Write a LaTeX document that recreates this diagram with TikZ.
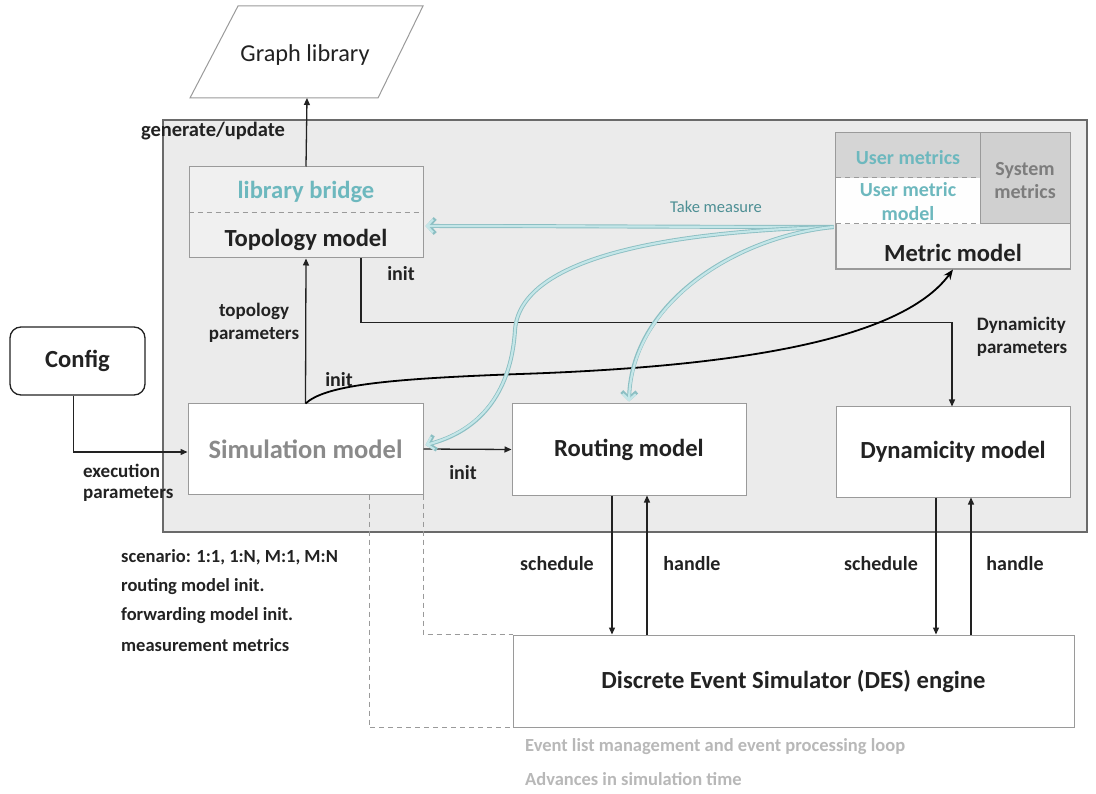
\documentclass[tikz,border=0pt]{standalone}
\usepackage{fontspec}
\setmainfont{Carlito}
\usetikzlibrary{arrows.meta,calc}
\definecolor{panel}{HTML}{EBEBEB}
\definecolor{panelborder}{HTML}{6A6A6A}
\definecolor{boxborder}{HTML}{9A9A9A}
\definecolor{tealtext}{HTML}{6DB8BE}
\definecolor{tealdark}{HTML}{4D8F94}
\definecolor{teallight}{HTML}{C4E6E8}
\definecolor{tealedge}{HTML}{8CBFC3}
\definecolor{simgray}{HTML}{8A8A8A}
\definecolor{sysgray}{HTML}{7D7D7D}
\definecolor{lightgraytext}{HTML}{B8B8B8}
\definecolor{cellgray}{HTML}{D5D5D5}
\definecolor{syscell}{HTML}{D0D0D0}
\definecolor{topofill}{HTML}{F0F0F0}
\definecolor{linecol}{HTML}{222222}
\begin{document}
\begin{tikzpicture}[x=1pt,y=-1pt,
  bigfont/.style={font=\fontsize{24.6}{28}\selectfont\bfseries},
  labfont/.style={font=\fontsize{20}{23}\selectfont\bfseries},
  model/.style={draw=boxborder, line width=1pt, fill=white, inner sep=0pt, bigfont},
  lab/.style={labfont, inner sep=0pt, text=linecol},
  arr/.style={draw=linecol, line width=1.3pt, -{Triangle[length=7pt,width=6pt]}},
  dashgray/.style={draw=boxborder, line width=1pt, dash pattern=on 5pt off 4pt},
  tealarr/.style={draw=tealedge, line width=4pt, -{Straight Barb[length=7pt,width=15pt]},
    postaction={draw=teallight, line width=2.2pt, -{Straight Barb[length=6pt,width=13pt]}}},
]
\useasboundingbox (0,0) rectangle (1096,794);
\fill[white] (0,0) rectangle (1096,794);

% main panel
\fill[panel] (163,120) rectangle (1087,532);
\draw[panelborder, line width=2pt] (163,120) rectangle (1087,532);

% Graph library parallelogram
\draw[boxborder, line width=1pt, fill=white] (238,6) -- (423,6) -- (378,98) -- (190,98) -- cycle;
\node[font=\fontsize{24.3}{28}\selectfont, text=linecol, inner sep=0pt] (glib) at (305,55) {Graph library};
\coordinate (glibb) at (307,98);

% Topology model
\node[model, fill=topofill, minimum width=234pt, minimum height=91pt] (topo) at (306,212.5) {};
\draw[dashgray] (topo.west) -- (topo.east);
\node[bigfont, text=tealtext, inner sep=0pt] (bridge) at (306,192) {library bridge};
\node[bigfont, text=linecol, inner sep=0pt] (topolab) at (306,240) {Topology model};

% Metric model
\node[model, fill=topofill, minimum width=234pt, minimum height=136pt] (metric) at (953,201) {};
\fill[cellgray] (836,133) rectangle (980,178);
\fill[syscell] (980,133) rectangle (1070,224);
\fill[white!95!panel] (836,178) rectangle (980,224);
\draw[boxborder, line width=1pt] (980,133) -- (980,224) -- (1070,224);
\draw[dashgray] (836,178) -- (980,178);
\draw[dashgray] (836,224) -- (980,224);
\draw[boxborder, line width=1pt] (metric.north west) rectangle (metric.south east);
\node[labfont, text=tealtext, inner sep=0pt] (umet) at (908,158) {User metrics};
\node[text=tealtext, inner sep=0pt, align=center, font=\fontsize{20}{24}\selectfont\bfseries] (umodel) at (908,202) {User metric\\model};
\node[text=sysgray, inner sep=0pt, align=center, font=\fontsize{20}{23}\selectfont\bfseries] (smet) at (1025,181) {System\\metrics};
\node[bigfont, text=linecol, inner sep=0pt] (metlab) at (953,253) {Metric model};

% Config
\node[draw=linecol, line width=1.3pt, rounded corners=11pt, fill=white, minimum width=135pt, minimum height=68pt, bigfont, text=linecol] (config) at (77.5,361) {Config};

% Simulation, routing, dynamicity
\node[model, minimum width=235pt, minimum height=90pt, text=simgray, font=\fontsize{26.5}{30}\selectfont\bfseries] (sim) at (305.5,449) {Simulation model};
\node[model, minimum width=234pt, minimum height=91pt, text=linecol] (rout) at (629,449.5) {Routing model};
\node[model, minimum width=234pt, minimum height=90pt, text=linecol] (dyn) at (953,452) {Dynamicity model};

% DES engine
\node[model, minimum width=561pt, minimum height=92pt, text=linecol] (des) at (793.5,681) {Discrete Event Simulator (DES) engine};

% dashed links from simulation to DES
\coordinate (simdl) at ($(sim.south)+(63.5,0)$);
\draw[dashgray] (sim.south east) |- (des.north west);
\draw[dashgray] (simdl) |- (des.south west);

% topology -> graph library
\draw[arr] (topo.north) -- (glibb);
\node[lab, font=\fontsize{20.5}{23}\selectfont\bfseries] (genlab) at (213,131) {generate/update};

% simulation -> topology
\draw[arr] (sim.north) -- (topo.south);
\node[lab, align=center, font=\fontsize{19}{23}\selectfont\bfseries] (topoparam) at (254,323) {topology\\parameters};

% topology -> dynamicity
\coordinate (tdstart) at ($(topo.south)+(55,0)$);
\coordinate (tdcorner) at ($(dyn.north)+(-1,-84)$);
\coordinate (tdend) at ($(dyn.north)+(-1,0)$);
\draw[arr] (tdstart) |- (tdcorner) -- (tdend);
\node[lab] (initt) at (401,274) {init};
\node[lab, align=left, font=\fontsize{19}{23}\selectfont\bfseries] (dynparam) at (1022,337) {Dynamicity\\parameters};

% config -> simulation
\coordinate (cfgout) at ($(config.south)+(-4,0)$);
\coordinate (simin) at ($(sim.west)+(0,3)$);
\draw[arr] (cfgout) |- (simin);
\node[lab, align=left, anchor=west, font=\fontsize{19}{21}\selectfont\bfseries] (execparam) at (83,483) {execution\\parameters};

% simulation -> routing
\draw[arr] (sim.east) -- (rout.west);
\node[lab] (initr) at (463,473) {init};

% simulation -> metric (init curve)
\draw[draw=black, line width=1.8pt, -{Stealth[length=10pt,width=8pt]}]
  (sim.north) .. controls (325,386) and (380,379) .. (520,374)
  .. controls (760,366) and (905,335) .. (metric.south);
\node[lab] (initm) at (339,380) {init};

% take measure curves
\coordinate (mstart) at ($(metric.west)+(-2,26)$);
\draw[tealarr] (mstart) .. controls (700,227) and (550,226) .. ($(topo.east)+(2,13.5)$);
\draw[tealarr] (mstart) .. controls (650,232) and (520,262) .. (515,330)
  .. controls (512,380) and (490,428) .. ($(sim.east)+(2,-4)$);
\draw[tealarr] (mstart) .. controls (740,236) and (632,300) .. ($(rout.north)+(0,-2)$);
\node[font=\fontsize{16.5}{19}\selectfont, text=tealdark, inner sep=0pt] (takem) at (716,207) {Take measure};

% schedule / handle
\coordinate (rsch) at ($(rout.south)+(-17,0)$);
\coordinate (rhan) at ($(rout.south)+(18,0)$);
\coordinate (dsch) at ($(dyn.south)+(-17,0)$);
\coordinate (dhan) at ($(dyn.south)+(18,0)$);
\draw[arr] (rsch) -- (rsch |- des.north);
\draw[arr] (rhan |- des.north) -- (rhan);
\draw[arr] (dsch) -- (dsch |- des.north);
\draw[arr] (dhan |- des.north) -- (dhan);
\node[lab] (sch1) at (557,564) {schedule};
\node[lab] (han1) at (692,564) {handle};
\node[lab] (sch2) at (881,564) {schedule};
\node[lab] (han2) at (1015,564) {handle};

% simulation notes
\node[lab, anchor=west, font=\fontsize{18.5}{21}\selectfont\bfseries] (note1) at (121,557) {scenario: 1:1, 1:N, M:1, M:N};
\node[lab, anchor=west, font=\fontsize{18.5}{21}\selectfont\bfseries] (note2) at (121,587) {routing model init.};
\node[lab, anchor=west, font=\fontsize{18.5}{21}\selectfont\bfseries] (note3) at (121,616) {forwarding model init.};
\node[lab, anchor=west, font=\fontsize{18.5}{21}\selectfont\bfseries] (note4) at (121,645) {measurement metrics};

% DES notes
\node[anchor=west, inner sep=0pt, font=\fontsize{18.5}{21}\selectfont\bfseries, text=lightgraytext] (desn1) at (525,747) {Event list management and event processing loop};
\node[anchor=west, inner sep=0pt, font=\fontsize{18.5}{21}\selectfont\bfseries, text=lightgraytext] (desn2) at (525,779) {Advances in simulation time};
\end{tikzpicture}
\end{document}
